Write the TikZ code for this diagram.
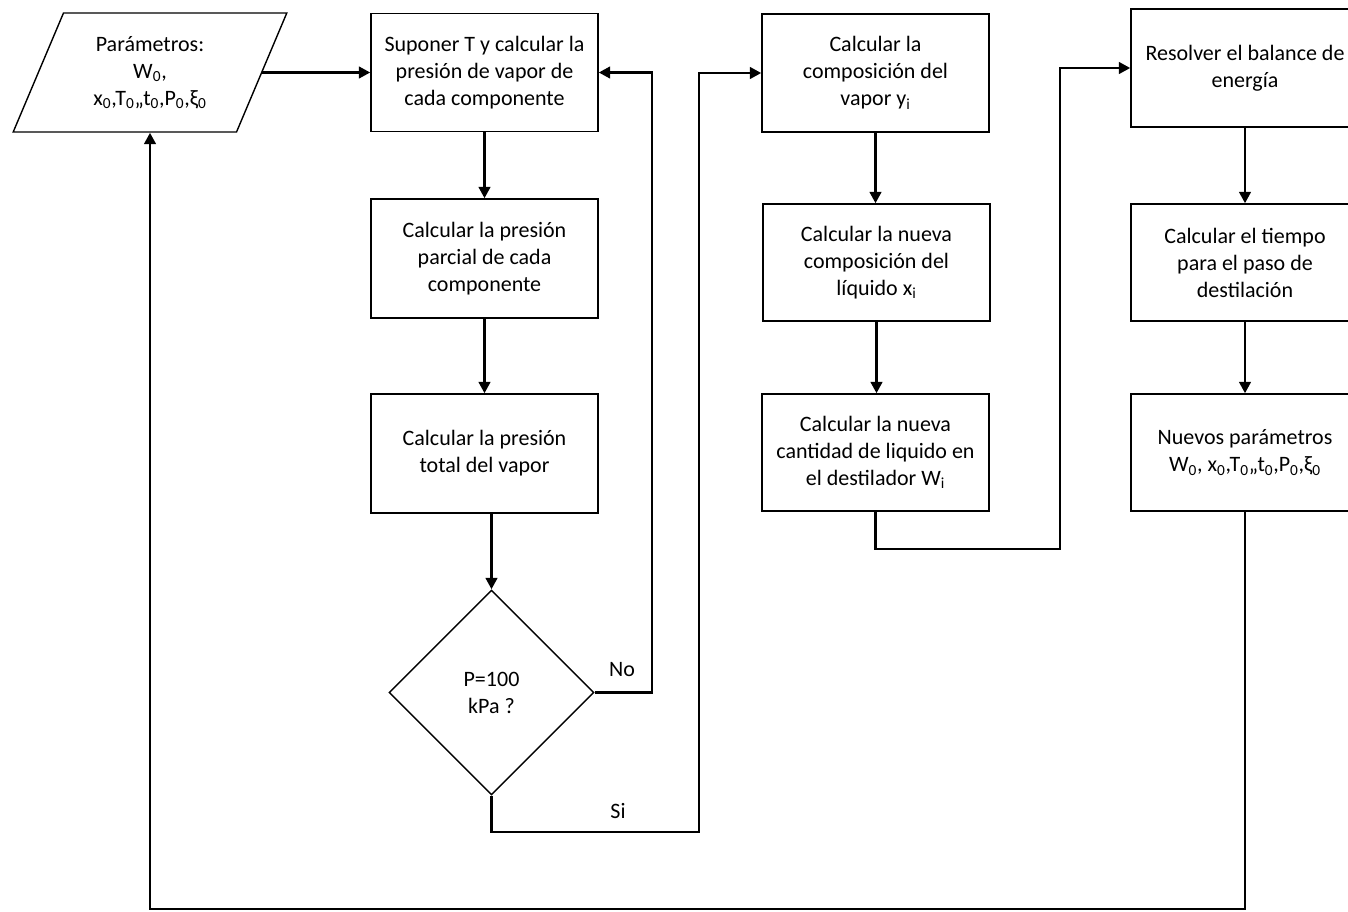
\documentclass[tikz,border=0pt]{standalone}
\usepackage{fontspec}
\setmainfont{Carlito}
\usetikzlibrary{arrows.meta,shapes.geometric}
\newdimen\px \px=0.75pt
\newcommand\sbs[1]{\textsubscript{#1}}
\begin{document}
\begin{tikzpicture}[x=0.75pt,y=-0.75pt,
  every node/.style={font=\fontsize{16.5}{20.25}\selectfont},
  box/.style={draw, line width=1.4\px, minimum width=227\px, minimum height=118\px, align=center, inner sep=0pt},
  arr/.style={line width=2.1pt, -{Triangle[length=8.5pt,width=8.5pt]}},
  lbl/.style={inner sep=0pt}]
\useasboundingbox (0,0) rectangle (1348,911);
% parallelogram
\node[draw, line width=1.4\px, trapezium, trapezium stretches=true, trapezium left angle=65.6, trapezium right angle=114.4,
      minimum width=274\px, minimum height=119\px, inner sep=0pt, align=center] (par) at (150,72.5)
  {Parámetros:\\ W\sbs{0},\\ x\sbs{0},T\sbs{0},,t\sbs{0},P\sbs{0},ξ\sbs{0}};
% column 1
\node[box] (b1) at (484.5,72.5) {Suponer T y calcular la\\ presión de vapor de\\ cada componente};
\node[box, minimum height=119\px] (b2) at (484.5,258.5) {Calcular la presión\\ parcial de cada\\ componente};
\node[box, minimum height=119\px] (b3) at (484.5,453.5) {Calcular la presión\\ total del vapor};
\node[draw, diamond, line width=1.4\px, minimum width=205\px, minimum height=205\px, inner sep=0pt, align=center] (dia) at (491.5,692.5) {P=100\\ kPa ?};
% column 2
\node[box] (b4) at (875.5,73) {Calcular la\\ composición del\\ vapor y\sbs{i}};
\node[box, minimum height=117\px] (b5) at (876.5,262.5) {Calcular la nueva\\ composición del\\ líquido x\sbs{i}};
\node[box, minimum height=117\px] (b6) at (875.5,452.5) {Calcular la nueva\\ cantidad de liquido en\\ el destilador W\sbs{i}};
% column 3
\node[box, minimum width=228\px] (b7) at (1245,68) {Resolver el balance de\\ energía};
\node[box, minimum width=228\px, minimum height=117\px] (b8) at (1245,262.5) {Calcular el tiempo\\ para el paso de\\ destilación};
\node[box, minimum width=228\px, minimum height=117\px] (b9) at (1245,452.5) {Nuevos parámetros\\ W\sbs{0}, x\sbs{0},T\sbs{0},,t\sbs{0},P\sbs{0},ξ\sbs{0}};
% labels
\node[lbl] (lno) at (622,670) {No};
\node[lbl] (lsi) at (618,811) {Si};
% helper coordinates
\coordinate (cno) at (652,692.5);
\coordinate (csi) at (699,832);
\coordinate (c3) at (1060,549);
\coordinate (c4) at (1245,909);
% connectors
\draw[arr] (par.east) -- (par.east -| b1.west);
\draw[arr] (b1.south) -- (b2.north);
\draw[arr] (b2.south) -- (b3.north);
\draw[arr] (dia.north |- b3.south) -- (dia.north);
\draw[arr] (dia.east) -- (cno) |- (b1.east);
\draw[arr] (dia.south) |- (csi) |- (b4.west);
\draw[arr] (b4.south) -- (b4.south |- b5.north);
\draw[arr] (b5.south) -- (b5.south |- b6.north);
\draw[arr] (b6.south) |- (c3) |- (b7.west);
\draw[arr] (b7.south) -- (b8.north);
\draw[arr] (b8.south) -- (b9.north);
\draw[arr] (b9.south) -- (c4) -| (par.south);
\end{tikzpicture}
\end{document}
